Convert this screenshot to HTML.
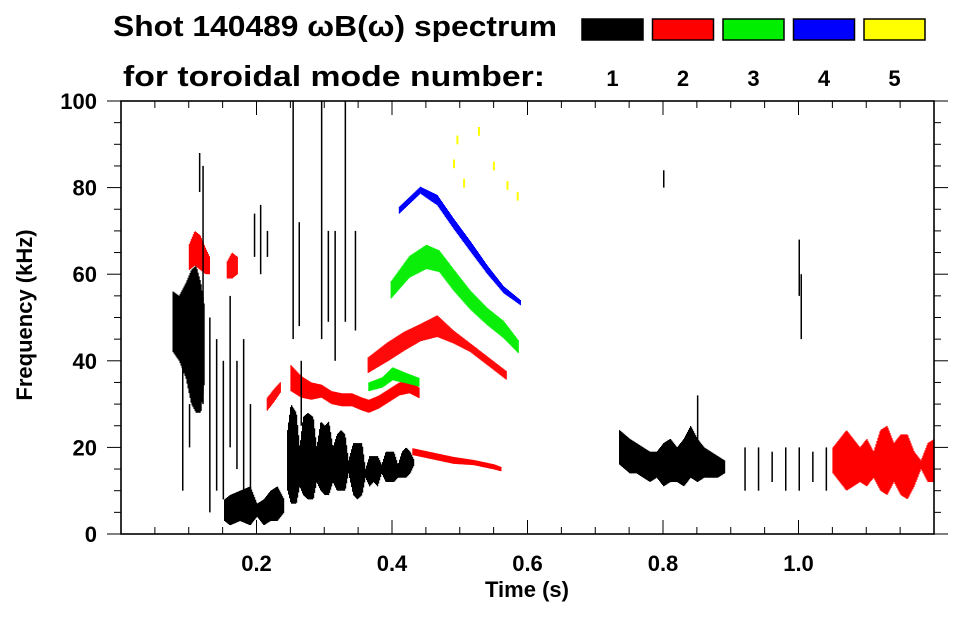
<!DOCTYPE html>
<html><head><meta charset="utf-8"><style>
html,body{margin:0;padding:0;background:#fff}
svg text{font-family:"Liberation Sans",sans-serif;font-weight:bold;fill:#000}
</style></head><body>
<svg id="chart" width="963" height="615" viewBox="0 0 963 615" xmlns="http://www.w3.org/2000/svg">
<text x="113" y="36" font-size="29" textLength="444" lengthAdjust="spacingAndGlyphs">Shot 140489 ωB(ω) spectrum</text>
<text x="123" y="86" font-size="29" textLength="422" lengthAdjust="spacingAndGlyphs">for toroidal mode number:</text>
<g id="legend"></g>
<g id="marks"></g>
<g id="axes"></g>
<text x="527" y="597" font-size="22" text-anchor="middle">Time (s)</text>
<text transform="translate(32,315) rotate(-90)" font-size="22" text-anchor="middle">Frequency (kHz)</text>
</svg>
<script>
// ---- data ----
const modeNumbers = [1,2,3,4,5];
const modeColors = ["#000000","#ff0000","#00ee00","#0000ff","#ffff00"];
const xTicks = [0.2,0.4,0.6,0.8,1.0];
const yTicks = [0,20,40,60,80,100];

// blobs: time, low freq, high freq
const blackEarlyT  = [0.076,0.085,0.095,0.103,0.11,0.117,0.123];
const blackEarlyLo = [42,40,36,30,28,28,36];
const blackEarlyHi = [56,55,58,61,62,58,52];
const blackLowT  = [0.152,0.16,0.175,0.19,0.2,0.21,0.22,0.23,0.24];
const blackLowLo = [3,2,3,2,4,2,3,3,5];
const blackLowHi = [8,9,10,11,7,8,10,11,8];
const blackPulseT  = [0.245,0.25,0.258,0.263,0.268,0.275,0.283,0.288,0.294,0.3,0.306,0.312,0.318,0.324,0.33,0.335,0.342,0.348,0.355,0.36,0.366,0.372,0.378,0.384,0.39,0.396,0.402,0.408,0.414,0.42,0.426,0.432];
const blackPulseLo = [10,7,7,11,9,8,8,12,10,9,9,12,10,10,10,14,9,8,9,13,11,12,11,14,12,12,12,13,13,13,14,16];
const blackPulseHi = [24,30,28,20,27,28,27,20,26,25,26,20,23,24,23,17,21,21,21,15,18,18,18,16,19,19,19,16,19,20,19,17];
const blackLateT  = [0.735,0.75,0.76,0.77,0.78,0.79,0.8,0.81,0.82,0.83,0.84,0.85,0.86,0.87,0.88,0.89];
const blackLateLo = [16,14,14,13,12,13,11,12,12,11,13,12,13,13,13,14];
const blackLateHi = [24,22,21,20,19,19,21,22,20,22,25,22,20,19,18,17];
const redLateT  = [1.05,1.06,1.07,1.08,1.09,1.1,1.11,1.12,1.13,1.14,1.15,1.16,1.17,1.18,1.19,1.2];
const redLateLo = [14,12,10,11,12,11,13,10,9,12,9,8,11,15,12,12];
const redLateHi = [20,22,24,22,20,22,19,24,25,21,23,23,19,17,21,22];

// bands: time, centre freq, half width
const redLowT = [0.25,0.265,0.28,0.295,0.31,0.325,0.34,0.355,0.365,0.38,0.395,0.41,0.425,0.44];
const redLowF = [36,34,33,33,31.5,31,31,30,29.5,30.5,32,33.5,34,32.5];
const redLowW = [3,2.5,2,1.5,1.5,1.5,1.5,1.5,1.5,1.5,1.5,1.5,1.5,1.2];
const redHighT = [0.364,0.392,0.417,0.441,0.466,0.49,0.515,0.54,0.569];
const redHighF = [39,42,44.5,46.5,48,45.5,43,40,36.5];
const redHighW = [1.8,2.2,2.2,2,2.5,1.5,1,1,1];
const greenT = [0.398,0.425,0.45,0.469,0.49,0.515,0.54,0.564,0.586];
const greenF = [56.4,61.7,64,63,58.7,54,50.2,47.2,43.2];
const greenW = [2,2.5,2.8,2.5,2.5,2.2,2,2,1.5];
const blueT = [0.41,0.441,0.466,0.49,0.515,0.54,0.564,0.589];
const blueF = [74.8,79.4,77.1,71.7,66.4,61,56.4,53.4];
const blueW = [0.8,0.8,1.2,1.2,1.2,1,0.8,0.6];
const greenLowT = [0.365,0.385,0.4,0.42,0.44];
const greenLowF = [34,35,37,36,35];
const greenLowW = [1,1.2,1.5,1.2,1];
const redBottomT = [0.43,0.46,0.49,0.52,0.55,0.56];
const redBottomF = [19,18,17,16.5,15.5,15];
const redBottomW = [0.8,0.8,0.8,0.6,0.6,0.5];
const redEarlyT = [0.1,0.108,0.116,0.124,0.13];
const redEarlyF = [64,66,65,63,62];
const redEarlyW = [3,4,4,3,2];
const redEarly2T = [0.156,0.163,0.171];
const redEarly2F = [61,62,62];
const redEarly2W = [2,3,2];
const redPreT = [0.215,0.225,0.235];
const redPreF = [30,32,34];
const redPreW = [1.5,1.5,1.2];

// sparse dashes: time, low, high
const yellowT  = [0.49,0.495,0.505,0.527,0.549,0.569,0.584];
const yellowLo = [84.5,90,80,92,84,79.5,77];
const yellowHi = [86.5,92,82,94,86,81.5,79];
const streakT  = [0.09,0.1,0.115,0.12,0.13,0.14,0.15,0.16,0.17,0.18,0.19,0.196,0.205,0.215,0.253,0.262,0.265,0.295,0.305,0.315,0.33,0.345,0.8,0.85,0.92,0.94,0.96,0.98,1.0,1.02,1.04,1.0,1.003];
const streakLo = [10,20,79,30,5,10,8,20,15,10,5,64,60,64,45,48,25,45,49,40,49,47,80,20,10,10,12,10,10,12,10,55,45];
const streakHi = [40,30,88,85,50,45,40,55,40,45,30,74,76,70,100,72,40,100,70,70,100,70,84,32,20,20,19,20,20,19,20,68,60];

// ---- axes functions ----
const X0=121, X1=934, Y0=534, Y1=101, TMAX=1.2, FMAX=100;
const X = t => X0 + t*(X1-X0)/TMAX;
const Y = f => Y0 - f*(Y0-Y1)/FMAX;
const NS="http://www.w3.org/2000/svg";
const marks=document.getElementById('marks');
function mk(tag,attrs,parent){const e=document.createElementNS(NS,tag);for(const k in attrs)e.setAttribute(k,attrs[k]);parent.appendChild(e);return e;}
function interp(ts,vs,t){if(t<=ts[0])return vs[0];for(let i=1;i<ts.length;i++){if(t<=ts[i]){const a=(t-ts[i-1])/(ts[i]-ts[i-1]);return vs[i-1]+a*(vs[i]-vs[i-1]);}}return vs[vs.length-1];}
function blob(ts,lo,hi,color,name){
  const g=mk('g',{},marks);
  
  
  const xa=X(ts[0]), xb=X(ts[ts.length-1]);
  for(let x=xa;x<=xb;x+=1){
    const t=(x-X0)*TMAX/(X1-X0);
    const l=interp(ts,lo,t), h=interp(ts,hi,t);
    mk('rect',{x:x.toFixed(1),y:Y(h).toFixed(1),width:1.2,height:Math.max(1,Y(l)-Y(h)).toFixed(1),fill:color},g);
  }
}
function band(ts,fs,ws,color,name){
  const lo=fs.map((f,i)=>f-ws[i]), hi=fs.map((f,i)=>f+ws[i]);
  blob(ts,lo,hi,color,name);
}
blob(blackEarlyT,blackEarlyLo,blackEarlyHi,"#000","n1-early-blob");
blob(blackLowT,blackLowLo,blackLowHi,"#000","n1-low-blob");
blob(blackPulseT,blackPulseLo,blackPulseHi,"#000","n1-pulses");
blob(blackLateT,blackLateLo,blackLateHi,"#000","n1-late-band");
blob(redLateT,redLateLo,redLateHi,"#ff0000","n2-late-blob");
band(redLowT,redLowF,redLowW,"#ff0000","n2-low-band");
band(redHighT,redHighF,redHighW,"#ff0000","n2-high-band");
band(greenT,greenF,greenW,"#00ee00","n3-band");
band(blueT,blueF,blueW,"#0000ff","n4-band");
band(greenLowT,greenLowF,greenLowW,"#00ee00","n3-low-band");
band(redBottomT,redBottomF,redBottomW,"#ff0000","n2-bottom-band");
band(redEarlyT,redEarlyF,redEarlyW,"#ff0000","n2-early-blob");
band(redEarly2T,redEarly2F,redEarly2W,"#ff0000","n2-early-blob-2");
band(redPreT,redPreF,redPreW,"#ff0000","n2-pre-band");
const sg=mk('g',{},marks);


streakT.forEach((t,i)=>{mk('rect',{x:X(t).toFixed(1),y:Y(streakHi[i]).toFixed(1),width:1.5,height:(Y(streakLo[i])-Y(streakHi[i])).toFixed(1),fill:"#000"},sg);});
const yg=mk('g',{},marks);


yellowT.forEach((t,i)=>{mk('rect',{x:X(t).toFixed(1),y:Y(yellowHi[i]).toFixed(1),width:2,height:(Y(yellowLo[i])-Y(yellowHi[i])).toFixed(1),fill:"#ffff00"},yg);});

// ---- axes ----
const ax=document.getElementById('axes');
mk('rect',{x:X0,y:Y1,width:X1-X0,height:Y0-Y1,fill:'none',stroke:'#000','stroke-width':1.6},ax);
for(let i=0;i<=24;i++){const t=i*0.05,x=X(t),L=(i%4===0)?14:7;
  mk('line',{x1:x,x2:x,y1:Y0,y2:Y0-L,stroke:'#000','stroke-width':1},ax);
  mk('line',{x1:x,x2:x,y1:Y1,y2:Y1+L,stroke:'#000','stroke-width':1},ax);}
for(let i=0;i<=20;i++){const f=i*5,y=Y(f),L=(i%4===0)?14:7;
  mk('line',{x1:X0,x2:X0-L,y1:y,y2:y,stroke:'#000','stroke-width':1},ax);
  mk('line',{x1:X1,x2:X1+L,y1:y,y2:y,stroke:'#000','stroke-width':1},ax);}
xTicks.forEach(t=>{const e=mk('text',{x:X(t),y:571,'font-size':22,'text-anchor':'middle'},ax);e.textContent=t.toFixed(1);
  
  });
yTicks.forEach(f=>{const e=mk('text',{x:97,y:Y(f)+8,'font-size':22,'text-anchor':'end'},ax);e.textContent=String(f);
  
  });

// ---- legend ----
const lg=document.getElementById('legend');
modeNumbers.forEach((n,i)=>{
  const x=582+i*70.5;
  const r=mk('rect',{x:x,y:19,width:61,height:21,fill:modeColors[i],stroke:'#000','stroke-width':1.5},lg);
  
  
  const t=mk('text',{x:x+30.5,y:86,'font-size':22,'text-anchor':'middle'},lg);
  t.textContent=String(n);
  
  
});
</script>
</body></html>
